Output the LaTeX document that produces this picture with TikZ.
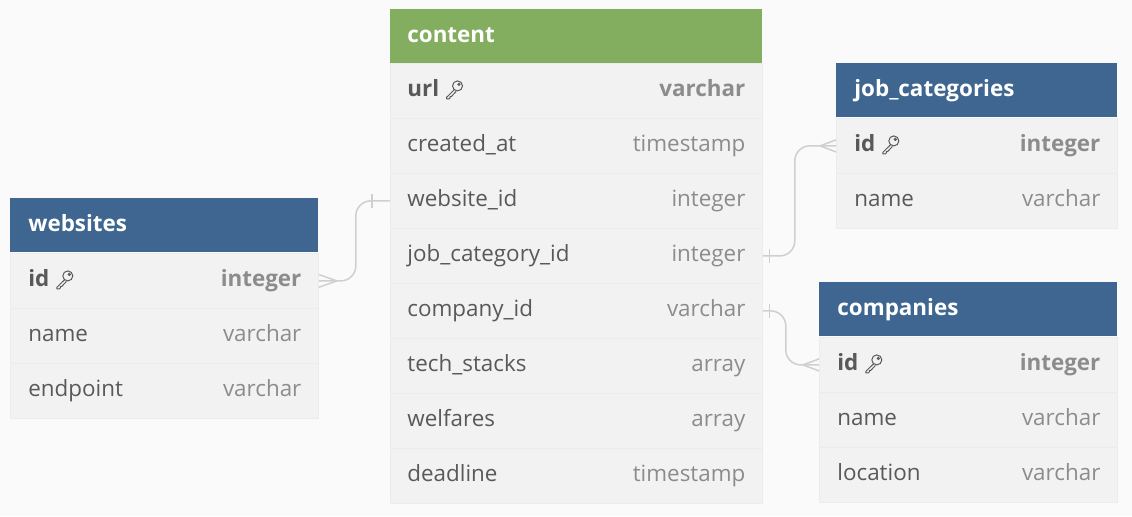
\documentclass[tikz,border=0pt]{standalone}
\usepackage{fontspec}
\setmainfont{Open Sans}
\usepackage{tikz}

\definecolor{bgcol}{HTML}{FAFAFA}
\definecolor{rowgray}{HTML}{F2F2F2}
\definecolor{rowline}{HTML}{ECECEC}
\definecolor{hdrblue}{HTML}{3E6691}
\definecolor{hdrgreen}{HTML}{83AD5F}
\definecolor{namegray}{HTML}{595959}
\definecolor{typegray}{HTML}{8C8C8C}
\definecolor{linkgray}{HTML}{CFCFCF}

\newcommand{\fieldfont}{\fontsize{11.2}{13}\selectfont}
\newcommand{\titlefont}{\fontsize{11.2}{13}\selectfont\bfseries}

\tikzset{
  hdr/.style={fill=#1, minimum height=27pt, anchor=north west, inner sep=0pt},
  rowbox/.style={fill=rowgray, draw=rowline, line width=0.4pt, minimum height=27.5pt, anchor=north west, inner sep=0pt},
  fname/.style={anchor=west, text=namegray, font=\fieldfont, inner sep=0pt, text height=8.2pt, text depth=2.3pt},
  ftype/.style={anchor=east, text=typegray, font=\fieldfont, inner sep=0pt, text height=8.2pt, text depth=2.3pt},
  title/.style={anchor=west, text=white, font=\titlefont, inner sep=0pt, text height=8.2pt, text depth=2.3pt},
  link/.style={draw=linkgray, line width=0.75pt, rounded corners=7.5pt},
  keyic/.pic={
    \draw[namegray, line width=0.5pt] (12,-3) circle (5);
    \draw[namegray, line width=0.5pt] (13.5,-4.5) circle (1.1);
    \draw[namegray, line width=0.5pt, line join=round]
      (8.8,0.8) -- (1,8.5) -- (1,10) -- (3.5,10) -- (4.5,9) -- (4.5,7.6) -- (5.8,7.6) -- (10.6,2.6);
  }
}

\begin{document}
\begin{tikzpicture}[x=0.5pt, y=-0.5pt]

\fill[bgcol] (0,0) rectangle (1132,516);
\useasboundingbox (0,0) rectangle (1132,516);

% content
\node[hdr=hdrgreen, minimum width=186pt] (cont0) at (390,9) {};
\node[title] at ([xshift=8.5pt]cont0.west) {content};
\node[rowbox, minimum width=186pt] (cont1) at (390,63) {};
\node[fname, font=\titlefont] (url) at ([xshift=8.5pt]cont1.west) {url};
\pic at ([xshift=3pt,yshift=1pt]url.east) {keyic};
\node[ftype, font=\titlefont] at ([xshift=-8.5pt]cont1.east) {varchar};
\foreach \fn/\ft [count=\i from 2] in {created\_at/timestamp, website\_id/integer,
    job\_category\_id/integer, company\_id/varchar, tech\_stacks/array,
    welfares/array, deadline/timestamp} {
  \node[rowbox, minimum width=186pt] (cont\i) at (390,{63+55*(\i-1)}) {};
  \node[fname] at ([xshift=8.5pt]cont\i.west) {\fn};
  \node[ftype] at ([xshift=-8.5pt]cont\i.east) {\ft};
}

% websites
\node[hdr=hdrblue, minimum width=154pt] (web0) at (10,198) {};
\node[title] at ([xshift=9pt]web0.west) {websites};
\node[rowbox, minimum width=154pt] (web1) at (10,253) {};
\node[fname, font=\titlefont] (webid) at ([xshift=9pt]web1.west) {id};
\pic at ([xshift=3pt,yshift=1pt]webid.east) {keyic};
\node[ftype, font=\titlefont] at ([xshift=-8.5pt]web1.east) {integer};
\foreach \fn/\ft [count=\i from 2] in {name/varchar, endpoint/varchar} {
  \node[rowbox, minimum width=154pt] (web\i) at (10,{253+55*(\i-1)}) {};
  \node[fname] at ([xshift=9pt]web\i.west) {\fn};
  \node[ftype] at ([xshift=-8.5pt]web\i.east) {\ft};
}

% job_categories
\node[hdr=hdrblue, minimum width=140.5pt] (job0) at (836,63) {};
\node[title] at ([xshift=9pt]job0.west) {job\_categories};
\node[rowbox, minimum width=140.5pt] (job1) at (836,118) {};
\node[fname, font=\titlefont] (jobid) at ([xshift=9pt]job1.west) {id};
\pic at ([xshift=3pt,yshift=1pt]jobid.east) {keyic};
\node[ftype, font=\titlefont] at ([xshift=-8.5pt]job1.east) {integer};
\node[rowbox, minimum width=140.5pt] (job2) at (836,173) {};
\node[fname] at ([xshift=9pt]job2.west) {name};
\node[ftype] at ([xshift=-8.5pt]job2.east) {varchar};

% companies
\node[hdr=hdrblue, minimum width=149pt] (comp0) at (819,282) {};
\node[title] at ([xshift=9pt]comp0.west) {companies};
\node[rowbox, minimum width=149pt] (comp1) at (819,337) {};
\node[fname, font=\titlefont] (compid) at ([xshift=9pt]comp1.west) {id};
\pic at ([xshift=3pt,yshift=1pt]compid.east) {keyic};
\node[ftype, font=\titlefont] at ([xshift=-8.5pt]comp1.east) {integer};
\foreach \fn/\ft [count=\i from 2] in {name/varchar, location/varchar} {
  \node[rowbox, minimum width=149pt] (comp\i) at (819,{337+55*(\i-1)}) {};
  \node[fname] at ([xshift=9pt]comp\i.west) {\fn};
  \node[ftype] at ([xshift=-8.5pt]comp\i.east) {\ft};
}

% relations
\draw[link] (web1.east) -- ++(37,0) |- (cont3.west);
\draw[link] ([xshift=9pt]web1.east) -- ([yshift=3.2pt]web1.east)
            ([xshift=9pt]web1.east) -- ([yshift=-3.2pt]web1.east);
\draw[link] ([xshift=-9pt,yshift=3.3pt]cont3.west) -- ([xshift=-9pt,yshift=-3.3pt]cont3.west);

\draw[link] (cont4.east) -- ++(32,0) |- (job1.west);
\draw[link] ([xshift=3.3pt,yshift=3.5pt]cont4.east) -- ([xshift=3.3pt,yshift=-3.5pt]cont4.east);
\draw[link] ([xshift=-8pt]job1.west) -- ([yshift=3pt]job1.west)
            ([xshift=-8pt]job1.west) -- ([yshift=-3pt]job1.west);

\draw[link] (cont5.east) -- ++(23,0) |- (comp1.west);
\draw[link] ([xshift=3.3pt,yshift=3.5pt]cont5.east) -- ([xshift=3.3pt,yshift=-3.5pt]cont5.east);
\draw[link] ([xshift=-8pt]comp1.west) -- ([yshift=3pt]comp1.west)
            ([xshift=-8pt]comp1.west) -- ([yshift=-3pt]comp1.west);

\end{tikzpicture}
\end{document}
